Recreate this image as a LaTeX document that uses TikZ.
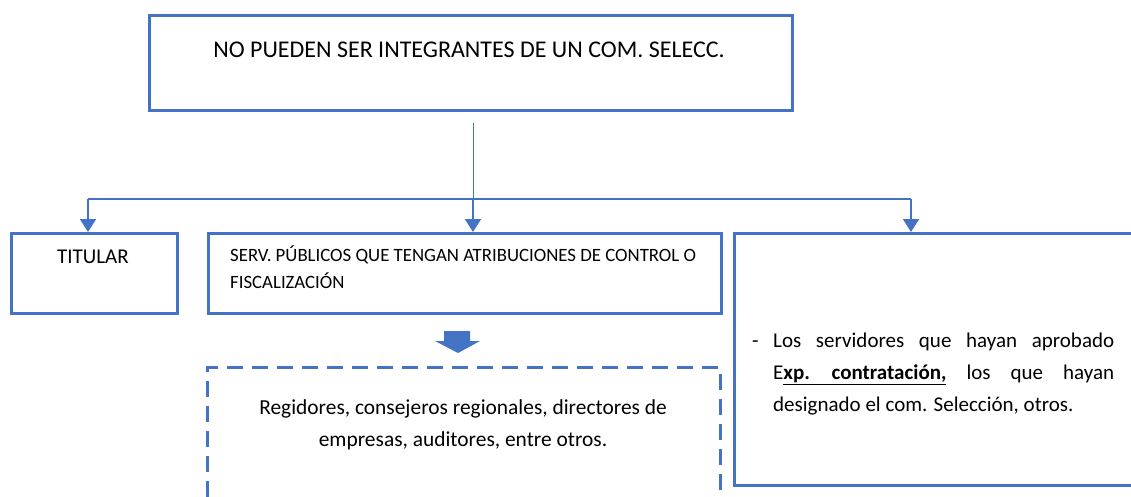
\documentclass[tikz,border=0pt]{standalone}
\usepackage{fontspec}
\setmainfont{Carlito}
\usetikzlibrary{arrows.meta}
\definecolor{oblue}{HTML}{4472C4}
\tikzset{
  box/.style={draw=oblue, line width=2.6pt, anchor=north west, inner sep=0pt},
  conn/.style={draw=oblue, line width=1.8pt},
  tip/.style={-{Triangle[width=16pt,length=13pt]}},
  lbl/.style={inner sep=0pt, text=black},
  rline/.style={lbl, anchor=base west, font=\fontsize{21}{25}\selectfont},
}
\begin{document}
\begin{tikzpicture}[x=1pt,y=-1pt]
\clip (0,0) rectangle (1131,497);
\fill[white] (0,0) rectangle (1131,497);
% boxes
\node[box, minimum width=643pt, minimum height=95pt] (top) at (148,14) {};
\node[lbl, font=\fontsize{24}{28}\selectfont] (toptxt) at (469,50) {NO PUEDEN SER INTEGRANTES DE UN COM. SELECC.};
\node[box, minimum width=166pt, minimum height=80pt] (tit) at (10,232) {};
\node[lbl, font=\fontsize{21}{25}\selectfont] (tittxt) at (93,257) {TITULAR};
\node[box, minimum width=513pt, minimum height=80pt] (serv) at (207,232) {};
\node[lbl, anchor=base west, font=\fontsize{18.8}{22}\selectfont] (serv1) at (230,261) {SERV. PÚBLICOS QUE TENGAN ATRIBUCIONES DE CONTROL O};
\node[lbl, anchor=base west, font=\fontsize{18.8}{22}\selectfont] (serv2) at (230,288) {FISCALIZACIÓN};
\node[box, minimum width=400pt, minimum height=252pt] (right) at (733,232) {};
\node[rline] (r1) at (752,347) {\hbox to 362pt{\hbox to 21pt{-\hfil}Los\hfil servidores\hfil que\hfil hayan\hfil aprobado}};
\node[rline] (r2) at (752,379) {\hbox to 362pt{\hbox to 21pt{\hfil}E\underline{\hbox to 163pt{\textbf{xp.}\hfil\textbf{contratación,}}}\hfil los\hfil que\hfil hayan}};
\node[rline] (r3) at (752,411) {\hbox to 362pt{\hbox to 21pt{\hfil}designado el com. Selección, otros.\hfil}};
\node[box, dashed, dash pattern=on 16pt off 9pt, minimum width=513pt, minimum height=160pt] (dash) at (206,366) {};
\node[lbl, align=center, font=\fontsize{21.4}{32}\selectfont] (dashtxt) at (463,425) {Regidores, consejeros regionales, directores de\\empresas, auditores, entre otros.};
% connectors
\coordinate (vtop) at (473,123);
\coordinate (hj) at (473,199);
\coordinate (hl) at (88,199);
\coordinate (hr) at (911,199);
\draw[draw=oblue, line width=1pt] (vtop) -- (hj);
\draw[conn] (hl) -- (hr);
\draw[conn, tip] (hl) -- (hl |- tit.north);
\draw[conn, tip] (hj) -- (hj |- serv.north);
\draw[conn, tip] (hr) -- (hr |- right.north);
% block arrow
\fill[oblue] (444,331) -- (470,331) -- (470,341) -- (480,341) -- (458,353) -- (435,341) -- (444,341) -- cycle;
\end{tikzpicture}
\end{document}
